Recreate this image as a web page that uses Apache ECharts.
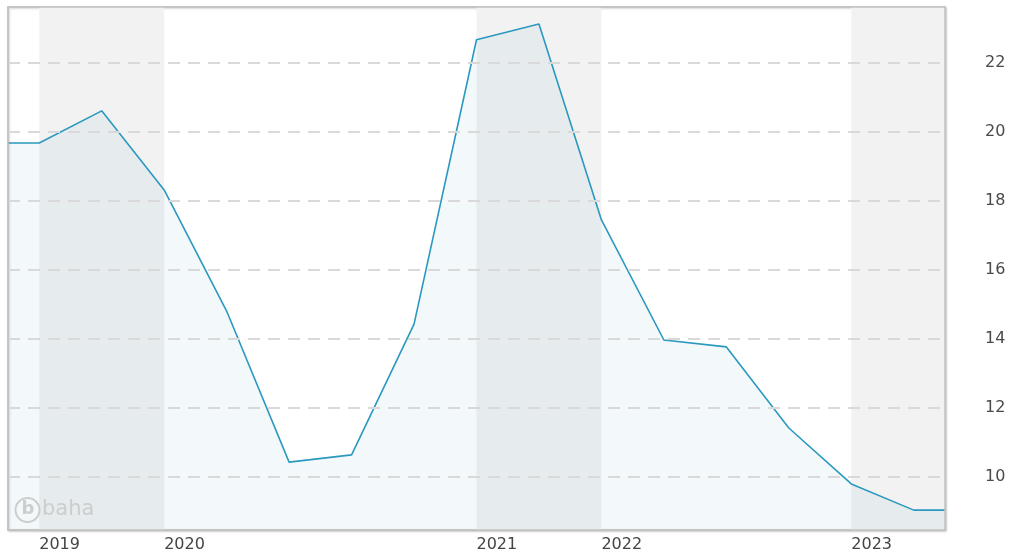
<!DOCTYPE html>
<html>
<head>
<meta charset="utf-8">
<script src="https://cdn.jsdelivr.net/npm/echarts@6/dist/echarts.min.js"></script>
<style>
  html, body { margin: 0; padding: 0; background: #fff; }
  #chart { width: 1018px; height: 556px; }
</style>
</head>
<body>
<div id="chart"></div>
<script>
// Reporting year of each data point
const periodYears = [2019, 2019, 2020, 2020, 2020, 2020, 2020, 2021, 2021, 2022, 2022, 2022, 2022, 2023, 2023];
// Series values
const values = [19.68, 20.61, 18.32, 14.81, 10.43, 10.64, 14.43, 22.67, 23.13, 17.45, 13.97, 13.77, 11.42, 9.80, 9.04];
// Right axis tick labels
const yTicks = [10, 12, 14, 16, 18, 20, 22];
// Years drawn with a shaded background
const shadedYears = [2019, 2021, 2023];

const yMin = 8.464, yMax = 23.62;
const n = values.length;

// Plot frame (pixels)
const G = { left: 8, top: 7, right: 73, bottom: 26 };
const W = 1018, H = 556;

// Line points on a continuous index scale; the first and last values run out to the plot edges
const linePoints = [[-0.5, values[0]]]
  .concat(values.map((v, i) => [i, v]))
  .concat([[n - 0.5, values[n - 1]]]);

// Index where each year starts
const yearStart = {};
periodYears.forEach((y, i) => { if (!(y in yearStart)) yearStart[y] = i; });
const bands = shadedYears.map(y => {
  const s = yearStart[y];
  const next = periodYears.findIndex((yy, i) => i > s && yy !== y);
  return [{ xAxis: s }, { xAxis: next === -1 ? n - 0.5 : next }];
});

const chart = echarts.init(document.getElementById('chart'));
chart.setOption({
  animation: false,
  grid: {
    left: G.left, right: G.right, top: G.top, bottom: G.bottom,
    show: true, borderColor: '#c2c2c2', borderWidth: 1.5,
    shadowColor: 'rgba(0,0,0,0.2)', shadowBlur: 2, shadowOffsetX: 1, shadowOffsetY: 1,
    backgroundColor: '#fff'
  },
  xAxis: [{
    type: 'category',
    data: periodYears.map(String),
    boundaryGap: true,
    axisLine: { show: false },
    axisTick: { show: false },
    splitLine: { show: false },
    axisLabel: {
      interval: 0,
      align: 'left',
      margin: 7,
      color: '#444',
      fontFamily: 'DejaVu Sans',
      fontSize: 16,
      formatter: (v, i) => (i === yearStart[+v] ? v : '')
    }
  }, {
    type: 'value',
    min: -0.5, max: n - 0.5,
    show: false
  }],
  yAxis: {
    type: 'value',
    position: 'right',
    min: yMin, max: yMax,
    axisLine: { show: false },
    axisTick: { show: false },
    splitLine: { show: false },
    axisLabel: { show: false }
  },
  series: [{
    // shaded year bands and dashed gridlines with their labels
    type: 'line',
    xAxisIndex: 1,
    data: [],
    z: 1,
    silent: true,
    markArea: {
      silent: true,
      itemStyle: { color: '#f2f2f2' },
      data: bands
    },
    markLine: {
      silent: true,
      symbol: 'none',
      lineStyle: { color: '#d9d9d9', type: [12, 8], width: 2 },
      label: {
        position: 'end',
        distance: 40,
        color: '#4a4a4a',
        fontFamily: 'DejaVu Sans',
        fontSize: 16,
        formatter: p => String(p.value)
      },
      data: yTicks.map(t => ({ yAxis: t }))
    }
  }, {
    type: 'line',
    xAxisIndex: 1,
    data: linePoints,
    z: 3,
    symbol: 'none',
    lineStyle: { color: '#2a98bf', width: 1.6 },
    areaStyle: { color: 'rgba(42,142,180,0.08)', origin: 'start' }
  }],
  graphic: [{
    // frame drawn over the bands so the border stays unbroken
    type: 'rect',
    shape: { x: G.left, y: G.top, width: W - G.left - G.right, height: H - G.top - G.bottom },
    style: { fill: 'none', stroke: '#c2c2c2', lineWidth: 1.5 },
    silent: true,
    z: 20
  }, {
    type: 'circle',
    shape: { cx: 27.5, cy: 510, r: 12 },
    style: { fill: 'none', stroke: '#cdcdcd', lineWidth: 2 },
    silent: true,
    z: 10
  }, {
    type: 'text',
    style: { x: 28, y: 509.5, text: 'b', fill: '#cdcdcd', font: 'bold 18px DejaVu Sans', align: 'center', verticalAlign: 'middle' },
    silent: true,
    z: 10
  }, {
    type: 'text',
    style: { x: 42, y: 510, text: 'baha', fill: '#cdcdcd', font: '21px DejaVu Sans', align: 'left', verticalAlign: 'middle' },
    silent: true,
    z: 10
  }]
});
</script>
</body>
</html>
